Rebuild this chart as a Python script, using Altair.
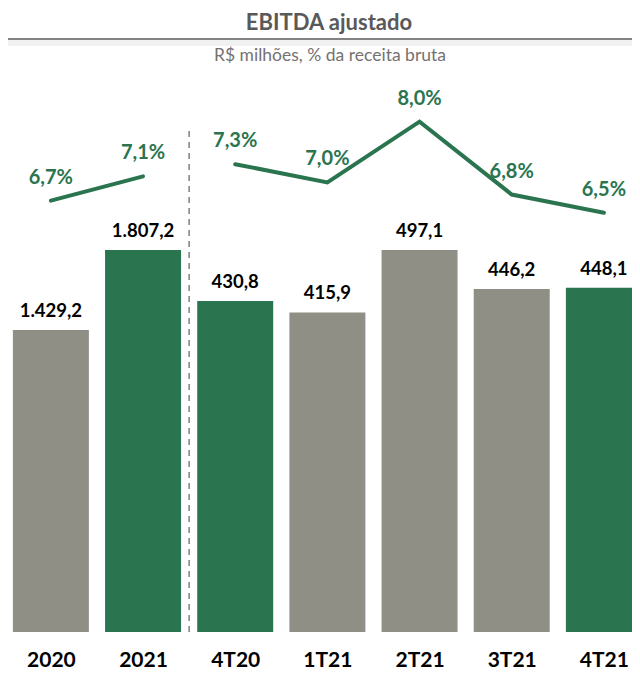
import json
import altair as alt
import pandas as pd

# ---- data ----
periodos = ["2020", "2021", "4T20", "1T21", "2T21", "3T21", "4T21"]
grupos = ["anual", "anual", "trimestral", "trimestral", "trimestral", "trimestral", "trimestral"]
ebitda = [1429.2, 1807.2, 430.8, 415.9, 497.1, 446.2, 448.1]
margem = [6.7, 7.1, 7.3, 7.0, 8.0, 6.8, 6.5]
destaque = ["base", "destaque", "destaque", "base", "base", "base", "destaque"]

titulo = "EBITDA ajustado"
subtitulo = "R$ milhões, % da receita bruta"


def fmt_br(v, d=1):
    s = f"{v:,.{d}f}"
    return s.replace(",", "X").replace(".", ",").replace("X", ".")


df = pd.DataFrame({
    "idx": list(range(len(periodos))),
    "periodo": periodos,
    "grupo": grupos,
    "ebitda": ebitda,
    "margem": margem,
    "tipo": destaque,
})
df["ebitda_lbl"] = [fmt_br(v) for v in ebitda]
df["margem_lbl"] = [fmt_br(v) + "%" for v in margem]

GREEN = "#2A754F"
GRAY = "#908F86"
FONT = "Lato"

W, H = 624, 624

label_expr = json.dumps(periodos) + "[datum.value]"
X = alt.X(
    "idx:Q",
    scale=alt.Scale(domain=[-0.4110, 6.2507], nice=False, zero=False),
    axis=alt.Axis(
        values=list(range(len(periodos))),
        labelExpr=label_expr,
        title=None,
        domain=False,
        ticks=False,
        tickSize=0,
        grid=False,
        labelFont=FONT,
        labelFontSize=21,
        labelFontWeight="bold",
        labelColor="#000000",
        labelPadding=17,
        labelOverlap=False,
        labelFlush=False,
    ),
)

base = alt.Chart(df).encode(x=X)

ann = "datum.grupo == 'anual'"
tri = "datum.grupo == 'trimestral'"

y_ann = alt.Scale(domain=[0, 2952], nice=False, zero=True)
y_tri = alt.Scale(domain=[0, 812.0], nice=False, zero=True)
y_pct = alt.Scale(domain=[-0.405, 9.872], nice=False, zero=False)

color = alt.Color("tipo:N", scale=alt.Scale(domain=["destaque", "base"], range=[GREEN, GRAY]), legend=None)

bar_txt = dict(dy=-19, baseline="middle", font=FONT, fontSize=18.5, fontWeight="bold", color="#000000")

bars_a = base.transform_filter(ann).mark_bar(size=76).encode(
    y=alt.Y("ebitda:Q", scale=y_ann, axis=None), color=color
)
text_a = base.transform_filter(ann).mark_text(**bar_txt).encode(
    y=alt.Y("ebitda:Q", scale=y_ann, axis=None), text="ebitda_lbl:N"
)

bars_q = base.transform_filter(tri).mark_bar(size=76).encode(
    y=alt.Y("ebitda:Q", scale=y_tri, axis=None), color=color
)
text_q = base.transform_filter(tri).mark_text(**bar_txt).encode(
    y=alt.Y("ebitda:Q", scale=y_tri, axis=None), text="ebitda_lbl:N"
)

line = base.mark_line(color=GREEN, strokeWidth=4, strokeCap="round").encode(
    y=alt.Y("margem:Q", scale=y_pct, axis=None), detail="grupo:N"
)
text_l = base.mark_text(
    dy=-23, baseline="middle", font=FONT, fontSize=20, fontWeight="bold", color=GREEN
).encode(y=alt.Y("margem:Q", scale=y_pct, axis=None), text="margem_lbl:N")

one = pd.DataFrame({"titulo": [titulo], "subtitulo": [subtitulo]})
sep = alt.Chart(one).mark_rule(color="#7F7F7F", strokeWidth=1.5, strokeDash=[6, 5]).encode(
    x=alt.datum(1.5), y=alt.value(123), y2=alt.value(H)
)
shadow = alt.Chart(one).mark_rule(color="#F1F1F1", strokeWidth=6).encode(
    x=alt.value(0), x2=alt.value(W), y=alt.value(35)
)
title_rule = alt.Chart(one).mark_rule(color="#595959", strokeWidth=1.5).encode(
    x=alt.value(0), x2=alt.value(W), y=alt.value(31)
)
title_txt = alt.Chart(one).mark_text(
    font=FONT, fontSize=22, fontWeight="bold", color="#595959", align="center", baseline="alphabetic"
).encode(x=alt.value(321), y=alt.value(21.5), text="titulo:N")
subtitle_txt = alt.Chart(one).mark_text(
    font=FONT, fontSize=17.5, color="#767171", align="center", baseline="alphabetic"
).encode(x=alt.value(322), y=alt.value(53), text="subtitulo:N")

chart = (
    alt.layer(shadow, title_rule, title_txt, subtitle_txt, sep,
              bars_a, text_a, bars_q, text_q, line, text_l)
    .resolve_scale(y="independent")
    .properties(
        width=W,
        height=H,
        autosize=alt.AutoSizeParams(type="none"),
        padding={"left": 0, "right": 0, "top": 0, "bottom": 37},
        background="#FFFFFF",
    )
    .configure_view(stroke=None)
)

chart.save("out.html", embed_options={"renderer": "svg", "actions": False})
